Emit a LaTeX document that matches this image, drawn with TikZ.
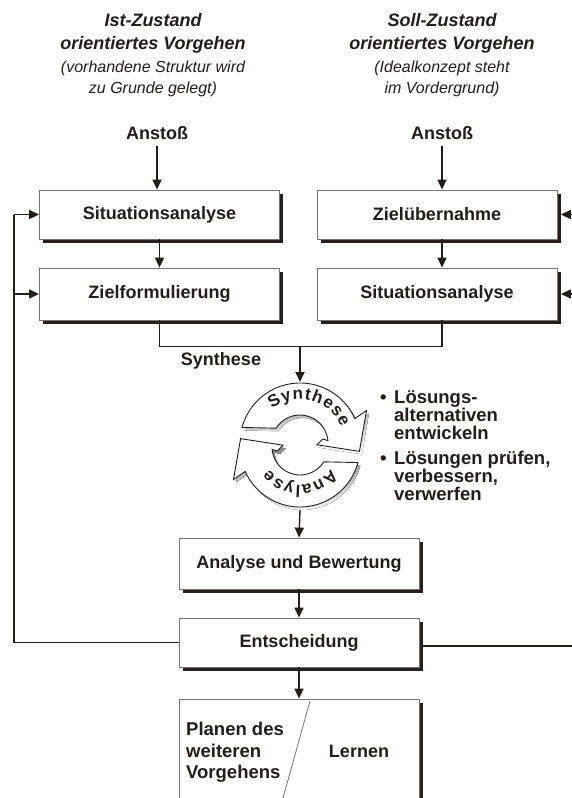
\documentclass[tikz,border=0pt]{standalone}
\usepackage{fontspec}
\setmainfont{Liberation Sans}
\usetikzlibrary{arrows.meta,shadows}
\definecolor{ink}{RGB}{35,30,28}
\definecolor{rim}{RGB}{120,115,115}
\definecolor{shade}{RGB}{38,31,29}
\begin{document}
\begin{tikzpicture}[x=1pt,y=1pt,
  lbl/.style={font=\fontsize{18}{21}\selectfont\bfseries, text=ink, inner sep=0pt},
  bul/.style={font=\fontsize{18.5}{18}\selectfont\bfseries, text=ink, inner sep=0pt, anchor=base west},
  hd/.style={font=\fontsize{18}{21}\selectfont\bfseries\itshape, text=ink, inner sep=0pt, anchor=base},
  sub/.style={font=\fontsize{16}{19}\selectfont\itshape, text=ink, inner sep=0pt, anchor=base},
  ring/.style={font=\fontsize{17}{17}\selectfont\bfseries, text=ink, inner sep=0pt, anchor=base},
  box/.style={draw=rim, line width=0.8pt, fill=white, minimum width=240pt, inner sep=0pt,
    font=\fontsize{18}{21}\selectfont\bfseries, text=ink,
    drop shadow={shadow xshift=3.5pt, shadow yshift=-3.5pt, fill=shade, opacity=1}},
  flow/.style={draw=ink, line width=1.4pt, -{Triangle[width=9pt,length=10pt]}},
  wire/.style={draw=ink, line width=1.2pt},
  cyc/.style={insert path={(165:60) arc[start angle=165,end angle=24,radius=60]
      -- (26:74) -- (-8:60) -- (-6:17) -- (10:23) -- (5:28)
      arc[start angle=5,end angle=148,radius=28] -- cycle}},
]
\fill[white] (0,0) rectangle (572,-798);
\useasboundingbox (0,0) rectangle (572,-798);

% column headings
\node[hd]  (ilA) at (153,-26.5) {Ist-Zustand};
\node[hd]  (ilB) at (153,-49.5) {orientiertes Vorgehen};
\node[sub] (ilC) at (153,-72)   {(vorhandene Struktur wird};
\node[sub] (ilD) at (153,-93)   {zu Grunde gelegt)};
\node[hd]  (slA) at (442,-26.5) {Soll-Zustand};
\node[hd]  (slB) at (442,-49.5) {orientiertes Vorgehen};
\node[sub] (slC) at (442,-72)   {(Idealkonzept steht};
\node[sub] (slD) at (442,-93)   {im Vordergrund)};

% triggers
\node[lbl, anchor=base] (anL) at (157,-139.5) {Anstoß};
\node[lbl, anchor=base] (anR) at (442,-139.5) {Anstoß};

% upper boxes
\node[box, minimum height=49pt] (sa) at (159.5,-214.5) {Situationsanalyse};
\node[box, minimum height=52pt] (zf) at (159.5,-294)   {Zielformulierung};
\node[box, minimum height=49pt] (zu) at (437,-214.5)   {Zielübernahme};
\node[box, minimum height=52pt] (sr) at (437,-294)     {Situationsanalyse};

% lower boxes
\node[box, minimum height=51pt] (ab) at (299,-563.5) {Analyse und Bewertung};
\node[box, minimum height=49pt] (en) at (299,-642.5) {Entscheidung};
\node[box, minimum height=130pt] (pl) at (299,-764) {};
\draw[rim, line width=0.8pt] (310,-701) -- (283,-798);
\node[bul] (plA) at (186,-735.5) {Planen des};
\node[bul] (plB) at (186,-757)   {weiteren};
\node[bul] (plC) at (186,-778.5) {Vorgehens};
\node[lbl, anchor=base] (lr) at (359,-757.5) {Lernen};

% synthesis / analysis cycle: two curved arrows with drop shadows
\begin{scope}[shift={(302.5,-446)}] \fill[shade] [cyc]; \end{scope}
\begin{scope}[shift={(302.5,-450)}, rotate=180] \fill[shade] [cyc]; \end{scope}
\begin{scope}[shift={(300,-443)}] \filldraw[draw=ink, fill=white, line width=0.9pt] [cyc]; \end{scope}
\begin{scope}[shift={(300,-447)}, rotate=180] \filldraw[draw=ink, fill=white, line width=0.9pt] [cyc]; \end{scope}

% letters set along the arcs, tops pointing outward
\begin{scope}[shift={(300,-443)}]
  \foreach \ch/\ang [count=\i] in {S/121.5, y/106.7, n/92.4, t/80.7, h/68.9, e/54.6, s/41.0, e/27.3}
    \node[ring, rotate=\ang-90] (sy\i) at (\ang:44) {\ch};
\end{scope}
\begin{scope}[shift={(300,-447)}]
  \foreach \ch/\ang [count=\i] in {A/314.6, n/295.9, a/279.4, l/267.2, y/255.0, s/239.2, e/223.3}
    \node[ring, rotate=\ang-90] (an\i) at (\ang:38) {\ch};
\end{scope}
\coordinate (cyTop) at (300,-382);
\coordinate (cyBot) at (300,-510);

% bullet notes
\node[bul] (d1) at (380,-403.5) {•};
\node[bul] (b1a) at (394,-403.5) {Lösungs-};
\node[bul] (b1b) at (394,-421.5) {alternativen};
\node[bul] (b1c) at (394,-439.5) {entwickeln};
\node[bul] (d2) at (380,-464.5) {•};
\node[bul] (b2a) at (394,-464.5) {Lösungen prüfen,};
\node[bul] (b2b) at (394,-482.5) {verbessern,};
\node[bul] (b2c) at (394,-500.5) {verwerfen};

\node[lbl, anchor=base] (syl) at (221,-365) {Synthese};

% connectors
\draw[flow, shorten <=6pt] (anL.south) -- (anL.south |- sa.north);
\draw[flow, shorten <=6pt] (anR.south) -- (anR.south |- zu.north);
\draw[flow] (sa.south) -- (zf.north);
\draw[flow] (zu.south -| anR) -- (sr.north -| anR);
\draw[wire] (zf.south) -- ++(0,-26) coordinate (jl) -| (sr.south -| anR);
\coordinate (jn) at (300,-346);
\draw[flow] (jn) -- (cyTop);
\draw[flow] (cyBot) -- (ab.north);
\draw[flow] (ab.south) -- (en.north);
\draw[flow] (en.south) -- (pl.north);

% feedback on the left
\coordinate (lp) at (14,-214.5);
\draw[wire] (en.west) -| (lp);
\draw[flow] (lp) -- (sa.west);
\draw[flow] (lp |- zf.west) -- (zf.west);

% feedback on the right
\coordinate (rp) at (572,-214.5);
\coordinate (rq) at (572,-646);
\draw[flow] (rp) -- ([xshift=3.5pt]zu.east);
\draw[flow] (rp |- sr.east) -- ([xshift=3.5pt]sr.east);
\draw[wire] ([xshift=3.5pt]en.east |- rq) -- (rq);
\end{tikzpicture}
\end{document}
